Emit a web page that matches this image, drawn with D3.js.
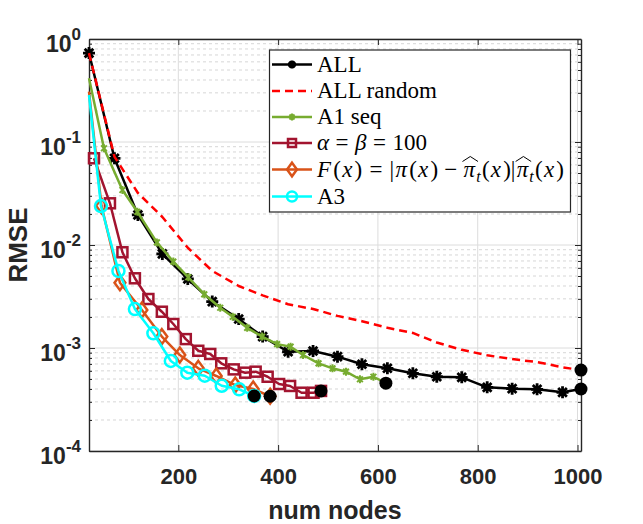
<!DOCTYPE html>
<html>
<head>
<meta charset="utf-8">
<script src="https://cdn.jsdelivr.net/npm/d3@7"></script>
<style>
  body { margin: 0; background: #fff; }
  svg { display: block; }
</style>
</head>
<body>
<svg id="chart" width="643" height="524"></svg>
<script>
// data
const allX = [21, 72, 119, 168, 219, 268, 321, 369, 420, 470, 519, 568, 619, 670, 718, 768, 819, 869, 919, 970, 1007]
const allY = [0.73, 0.0695, 0.0196, 0.0082, 0.00468, 0.00282, 0.00191, 0.00129, 0.00092, 0.000935, 0.000824, 0.000695,
  0.000635, 0.000568, 0.000526, 0.000519, 0.000415, 0.000403, 0.000397, 0.000371, 0.0004]
const randomY = [0.73, 0.072, 0.032, 0.0187, 0.0094, 0.0056, 0.0040, 0.00324, 0.00266, 0.00239, 0.00205, 0.00182,
  0.00157, 0.0014, 0.00113, 0.00096, 0.00085, 0.00078, 0.00073, 0.00065, 0.00061]
const a1X = [21, 51, 88, 118, 157, 190, 220, 252, 284, 309, 338, 368, 398, 425, 450, 481, 509, 536, 564, 591, 616]
const a1Y = [0.415, 0.0869, 0.0342, 0.021, 0.0106, 0.0069, 0.00486, 0.00332, 0.00246, 0.00201, 0.00157, 0.00129,
  0.00109, 0.00103, 0.000855, 0.00071, 0.000635, 0.000589, 0.000497, 0.000526, 0.000456]
const alphaX = [31, 63, 88, 113, 140, 167, 190, 215, 240, 264, 286, 311, 334, 355, 379, 402, 424, 447, 471, 486]
const alphaY = [0.0695, 0.0254, 0.0085, 0.00475, 0.00299, 0.00225, 0.00171, 0.00122, 0.00094, 0.000875, 0.00071,
  0.00062, 0.000576, 0.000589, 0.000526, 0.000447, 0.000428, 0.000368, 0.000368, 0.000383]
const fX = [21, 46, 83, 127, 167, 203, 240, 276, 314, 350, 384]
const fY = [0.308, 0.024, 0.0043, 0.00234, 0.00129, 0.000855, 0.000635, 0.000535, 0.000437, 0.0004, 0.00034]
const a3X = [21, 45, 80, 113, 150, 185, 218, 253, 287, 322, 352]
const a3Y = [0.286, 0.0239, 0.0056, 0.00239, 0.00139, 0.000748, 0.000576, 0.000538, 0.00043, 0.000397, 0.000342]

const xTicks = [200, 400, 600, 800, 1000]
const yTicks = [1e-4, 1e-3, 1e-2, 1e-1, 1]
const yExponents = ['-4', '-3', '-2', '-1', '0']

const series = [
  { name: 'ALL', xs: allX, ys: allY, color: '#000000', marker: 'star', dash: null, skipFirst: false },
  { name: 'ALL random', xs: allX, ys: randomY, color: '#ff0000', marker: null, dash: '8,5', skipFirst: true },
  { name: 'A1 seq', xs: a1X, ys: a1Y, color: '#77ac30', marker: 'small', dash: null, skipFirst: true },
  { name: 'alpha', xs: alphaX, ys: alphaY, color: '#a2142f', marker: 'square', dash: null, skipFirst: false },
  { name: 'F', xs: fX, ys: fY, color: '#d95319', marker: 'diamond', dash: null, skipFirst: true },
  { name: 'A3', xs: a3X, ys: a3Y, color: '#00ffff', marker: 'circle', dash: null, skipFirst: true }
]

const margin = { left: 89, right: 62, top: 39, bottom: 73 }
const width = 643
const height = 524
const svg = d3.select('#chart')

const x = d3.scaleLinear()
  .domain([21, 1007])
  .range([margin.left, width - margin.right])
const y = d3.scaleLog()
  .domain([1e-4, 1])
  .range([height - margin.bottom, margin.top])

const axisColor = '#262626'
const sans = 'Liberation Sans, Arial, sans-serif'
const x0 = x.range()[0], x1 = x.range()[1]
const y0 = y.range()[0], y1 = y.range()[1]

// minor values for the log axis
const minorY = []
for (let e = -4; e < 0; e++) {
  for (let m = 2; m <= 9; m++) minorY.push(m * Math.pow(10, e))
}

// grid
const grid = svg.append('g').attr('class', 'grid')
grid.selectAll('line.minor')
  .data(minorY)
  .enter().append('line')
    .attr('class', 'minor')
    .attr('x1', x0).attr('x2', x1)
    .attr('y1', d => y(d)).attr('y2', d => y(d))
    .attr('stroke', '#d6d6d6')
    .attr('stroke-width', 1)
    .attr('stroke-dasharray', '3,3')
grid.selectAll('line.majory')
  .data(yTicks)
  .enter().append('line')
    .attr('class', 'majory')
    .attr('x1', x0).attr('x2', x1)
    .attr('y1', d => y(d)).attr('y2', d => y(d))
    .attr('stroke', '#dcdcdc')
    .attr('stroke-width', 1)
grid.selectAll('line.majorx')
  .data(xTicks)
  .enter().append('line')
    .attr('class', 'majorx')
    .attr('x1', d => x(d)).attr('x2', d => x(d))
    .attr('y1', y0).attr('y2', y1)
    .attr('stroke', '#dcdcdc')
    .attr('stroke-width', 1)

// axes (MATLAB style box with inward ticks)
const bottomAxis = svg.append('g')
  .attr('transform', `translate(0, ${y0})`)
  .call(d3.axisBottom(x).tickValues(xTicks).tickSize(-6).tickSizeOuter(0).tickPadding(16)
    .tickFormat(d3.format('d')))
svg.append('g')
  .attr('transform', `translate(0, ${y1})`)
  .call(d3.axisTop(x).tickValues(xTicks).tickSize(-6).tickSizeOuter(0).tickFormat(''))
svg.append('g')
  .attr('transform', `translate(${x0}, 0)`)
  .call(d3.axisLeft(y).tickValues(yTicks).tickSize(-6).tickSizeOuter(0).tickFormat(''))
svg.append('g')
  .attr('transform', `translate(${x1}, 0)`)
  .call(d3.axisRight(y).tickValues(yTicks).tickSize(-6).tickSizeOuter(0).tickFormat(''))
svg.append('g')
  .attr('transform', `translate(${x0}, 0)`)
  .call(d3.axisLeft(y).tickValues(minorY).tickSize(-3).tickSizeOuter(0).tickFormat(''))
  .select('.domain').remove()
svg.append('g')
  .attr('transform', `translate(${x1}, 0)`)
  .call(d3.axisRight(y).tickValues(minorY).tickSize(-3).tickSizeOuter(0).tickFormat(''))
  .select('.domain').remove()

svg.selectAll('.domain, .tick line')
  .attr('stroke', axisColor)
svg.selectAll('.domain').attr('stroke-width', 1.4)

bottomAxis.selectAll('text')
  .attr('fill', axisColor)
  .attr('font-family', sans)
  .attr('font-weight', 'bold')
  .attr('font-size', 22)
  .attr('dy', '0.75em')

// y tick labels as 10^n
const yLabels = svg.append('g')
yTicks.forEach((t, i) => {
  const label = yLabels.append('text')
    .attr('x', 81)
    .attr('y', y(t) + 13)
    .attr('text-anchor', 'end')
    .attr('fill', axisColor)
    .attr('font-family', sans)
    .attr('font-weight', 'bold')
  label.append('tspan').attr('font-size', 23).text('10')
  label.append('tspan').attr('font-size', 17).attr('dy', -12).text(yExponents[i])
})

// axis titles
svg.append('text')
  .attr('x', (x0 + x1) / 2)
  .attr('y', 519)
  .attr('text-anchor', 'middle')
  .attr('fill', axisColor)
  .attr('font-family', sans)
  .attr('font-weight', 'bold')
  .attr('font-size', 25)
  .text('num nodes')
svg.append('text')
  .attr('transform', `translate(27, ${(y0 + y1) / 2}) rotate(-90)`)
  .attr('text-anchor', 'middle')
  .attr('fill', axisColor)
  .attr('font-family', sans)
  .attr('font-weight', 'bold')
  .attr('font-size', 26)
  .text('RMSE')

// markers
function drawMarker(g, type, cx, cy, color, s) {
  if (type === 'star') {
    const r = s / 2, d = r * 0.72
    g.append('path')
      .attr('d', `M${cx - r},${cy}H${cx + r}M${cx},${cy - r}V${cy + r}` +
        `M${cx - d},${cy - d}L${cx + d},${cy + d}M${cx - d},${cy + d}L${cx + d},${cy - d}`)
      .attr('stroke', color).attr('stroke-width', 2.8).attr('fill', 'none')
  } else if (type === 'small') {
    const r = s / 2, d = r * 0.72
    g.append('path')
      .attr('d', `M${cx},${cy - r}V${cy + r}` +
        `M${cx - d},${cy - d}L${cx + d},${cy + d}M${cx - d},${cy + d}L${cx + d},${cy - d}`)
      .attr('stroke', color).attr('stroke-width', 2).attr('fill', 'none')
  } else if (type === 'square') {
    g.append('rect')
      .attr('x', cx - s / 2).attr('y', cy - s / 2)
      .attr('width', s).attr('height', s)
      .attr('stroke', color).attr('stroke-width', 2.5).attr('fill', 'none')
  } else if (type === 'diamond') {
    const h = s * 0.62, w = s * 0.45
    g.append('path')
      .attr('d', `M${cx},${cy - h}L${cx + w},${cy}L${cx},${cy + h}L${cx - w},${cy}Z`)
      .attr('stroke', color).attr('stroke-width', 2.5).attr('fill', 'none')
  } else if (type === 'circle') {
    g.append('circle')
      .attr('cx', cx).attr('cy', cy).attr('r', s / 2)
      .attr('stroke', color).attr('stroke-width', 2.5).attr('fill', 'none')
  }
}

const markerSize = { star: 12, small: 8, square: 10, diamond: 12, circle: 12 }

const line = d3.line()
  .x(d => x(d[0]))
  .y(d => y(d[1]))

const plot = svg.append('g').attr('class', 'series')
series.forEach(s => {
  const pts = s.xs.map((v, i) => [v, s.ys[i]])
  const g = plot.append('g')
  g.append('path')
    .datum(pts)
    .attr('d', line)
    .attr('fill', 'none')
    .attr('stroke', s.color)
    .attr('stroke-width', 2.5)
    .attr('stroke-linejoin', 'round')
    .attr('stroke-dasharray', s.dash)
  if (s.marker) {
    pts.forEach((p, i) => {
      if (i === 0 && s.skipFirst) return
      drawMarker(g, s.marker, x(p[0]), y(p[1]), s.color, markerSize[s.marker])
    })
  }
})

// end points of every series
plot.selectAll('circle.end')
  .data(series.map(s => [s.xs[s.xs.length - 1], s.ys[s.ys.length - 1]]))
  .enter().append('circle')
    .attr('class', 'end')
    .attr('cx', d => x(d[0]))
    .attr('cy', d => y(d[1]))
    .attr('r', 6.5)
    .attr('fill', '#000')

// legend
const legend = svg.append('g')
legend.append('rect')
  .attr('x', 269.5).attr('y', 50)
  .attr('width', 301).attr('height', 162)
  .attr('fill', '#fff')
  .attr('stroke', axisColor)
  .attr('stroke-width', 1.2)

const rowY = [64.5, 91, 117, 143, 169.5, 196.5]
const serif = 'Liberation Serif, Times New Roman, serif'

function writeTokens(tokens, startX, baseY, gap) {
  let cx = startX
  tokens.forEach(tok => {
    const size = tok.sub ? 16 : 23
    const t = legend.append('text')
      .attr('x', cx)
      .attr('y', baseY + (tok.sub ? 5 : 0))
      .attr('font-family', serif)
      .attr('font-size', size)
      .attr('font-style', tok.i ? 'italic' : 'normal')
      .attr('fill', '#000')
      .text(tok.t)
    const w = t.node().getComputedTextLength()
    if (tok.hat) {
      const top = baseY - 15
      legend.append('path')
        .attr('d', `M${cx - 1},${top}L${cx + w / 2 + 1},${top - 5}L${cx + w + 3},${top}`)
        .attr('fill', 'none')
        .attr('stroke', '#000')
        .attr('stroke-width', 1)
    }
    cx += w + (tok.pad || 0) + gap
  })
}

const labels = [
  [{ t: 'ALL' }],
  [{ t: 'ALL random' }],
  [{ t: 'A1 seq' }],
  [{ t: 'α', i: true, pad: 6 }, { t: '=', pad: 6 }, { t: 'β', i: true, pad: 6 }, { t: '=', pad: 6 }, { t: '100' }],
  [{ t: 'F', i: true, pad: 1 }, { t: '(' }, { t: 'x', i: true, pad: 1 }, { t: ')', pad: 6 }, { t: '=', pad: 6 },
    { t: '|' }, { t: 'π', i: true, pad: 1 }, { t: '(' }, { t: 'x', i: true, pad: 1 }, { t: ')', pad: 5 },
    { t: '−', pad: 5 }, { t: 'π', i: true, hat: true }, { t: 't', i: true, sub: true }, { t: '(' },
    { t: 'x', i: true, pad: 1 }, { t: ')|' }, { t: 'π', i: true, hat: true }, { t: 't', i: true, sub: true },
    { t: '(' }, { t: 'x', i: true, pad: 1 }, { t: ')' }],
  [{ t: 'A3' }]
]
const rowGap = [0, 0, 0, 0.5, 1.2, 0]

series.forEach((s, i) => {
  const ry = rowY[i]
  legend.append('line')
    .attr('x1', 272).attr('x2', 312)
    .attr('y1', ry).attr('y2', ry)
    .attr('stroke', s.color)
    .attr('stroke-width', 2.5)
    .attr('stroke-dasharray', s.dash)
  if (s.marker) {
    const size = s.marker === 'circle' ? 10 : s.marker === 'diamond' ? 11 : s.marker === 'small' ? 7 : 8
    drawMarker(legend, s.marker, 292, ry, s.color, size)
  }
  writeTokens(labels[i], 317, ry + 7, rowGap[i])
})
</script>
</body>
</html>
